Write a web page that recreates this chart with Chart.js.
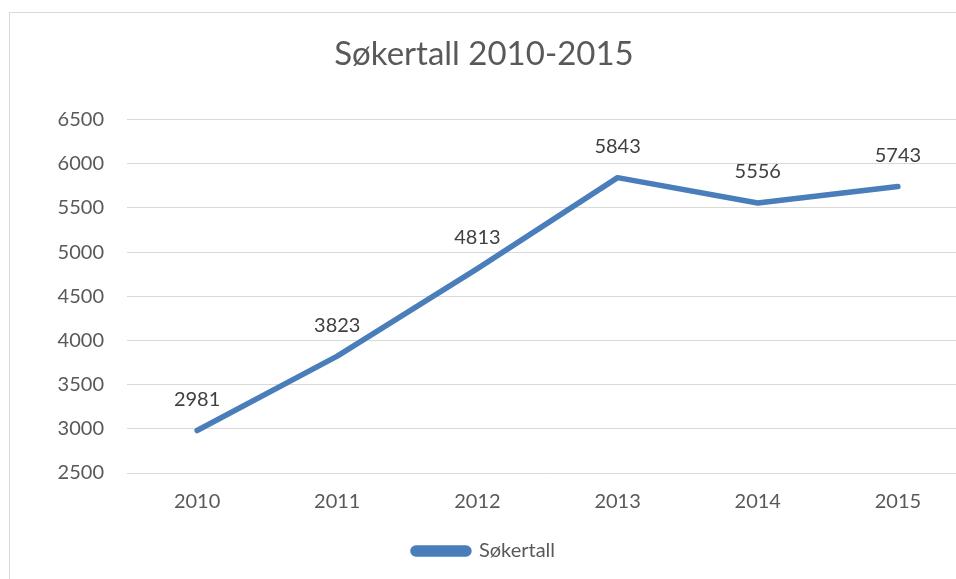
<!DOCTYPE html>
<html>
<head>
<meta charset="utf-8">
<script src="https://cdn.jsdelivr.net/npm/chart.js@4/dist/chart.umd.min.js"></script>
<style>
  html, body { margin: 0; padding: 0; background: #fff; overflow: hidden; }
  #wrap { position: relative; width: 956px; height: 579px; overflow: hidden; }
  #frame {
    position: absolute; left: 9px; top: 12px; width: 1000px; height: 600px;
    border: 1px solid #d9d9d9; box-sizing: border-box;
  }
  #holder { position: absolute; left: 0; top: 0; width: 974px; height: 579px; }
</style>
</head>
<body>
<div id="wrap">
  <div id="frame"></div>
  <div id="holder"><canvas id="soker_chart"></canvas></div>
</div>
<script>
const years = ["2010", "2011", "2012", "2013", "2014", "2015"];
const sokertall = [2981, 3823, 4813, 5843, 5556, 5743];
const yTicks = [2500, 3000, 3500, 4000, 4500, 5000, 5500, 6000, 6500];

const FONT = "Lato, 'Open Sans', sans-serif";
const GREY = "#595959";
const BLUE = "#4a7ebb";

// value labels above each point
const pointLabels = {
    id: "pointLabels",
    afterDatasetsDraw(chart) {
        const ctx = chart.ctx;
        const meta = chart.getDatasetMeta(0);
        ctx.save();
        ctx.font = "20px " + FONT;
        ctx.fillStyle = "#404040";
        ctx.textAlign = "center";
        ctx.textBaseline = "middle";
        meta.data.forEach((pt, i) => {
            ctx.fillText(String(sokertall[i]), pt.x, pt.y - 31);
        });
        ctx.restore();
    }
};

new Chart(document.getElementById("soker_chart"), {
    type: "line",
    data: {
        labels: years,
        datasets: [{
            label: "Søkertall",
            data: sokertall,
            borderColor: BLUE,
            backgroundColor: BLUE,
            borderWidth: 5.5,
            borderCapStyle: "round",
            borderJoinStyle: "round",
            pointRadius: 0,
            tension: 0,
        }],
    },
    options: {
        responsive: true,
        maintainAspectRatio: false,
        animation: false,
        layout: { padding: { top: 12, right: 6, bottom: 8, left: 0 } },
        plugins: {
            title: {
                display: true,
                text: "Søkertall 2010-2015",
                color: GREY,
                font: { family: FONT, size: 33, weight: "normal", lineHeight: 1.2 },
                padding: { top: 23, bottom: 45 },
            },
            legend: {
                position: "bottom",
                labels: {
                    color: GREY,
                    font: { family: FONT, size: 20 },
                    boxWidth: 56,
                    boxHeight: 6,
                    useBorderRadius: true,
                    borderRadius: 3,
                    padding: 10,
                },
            },
            tooltip: { enabled: false },
        },
        scales: {
            x: {
                offset: true,
                grid: { display: false, drawTicks: false },
                border: { display: false },
                ticks: { color: GREY, font: { family: FONT, size: 20 }, padding: 17 },
                afterFit(scale) { scale.height = 58; },
            },
            y: {
                min: 2500,
                max: 6500,
                afterBuildTicks(scale) { scale.ticks = yTicks.map(v => ({ value: v })); },
                grid: { color: "#d9d9d9", lineWidth: 1, drawTicks: false },
                border: { display: false },
                ticks: {
                    color: GREY,
                    font: { family: FONT, size: 20 },
                    padding: 23,
                    callback: (v) => String(v),
                },
                afterFit(scale) { scale.width = 127; },
            },
        },
    },
    plugins: [pointLabels],
});
</script>
</body>
</html>
